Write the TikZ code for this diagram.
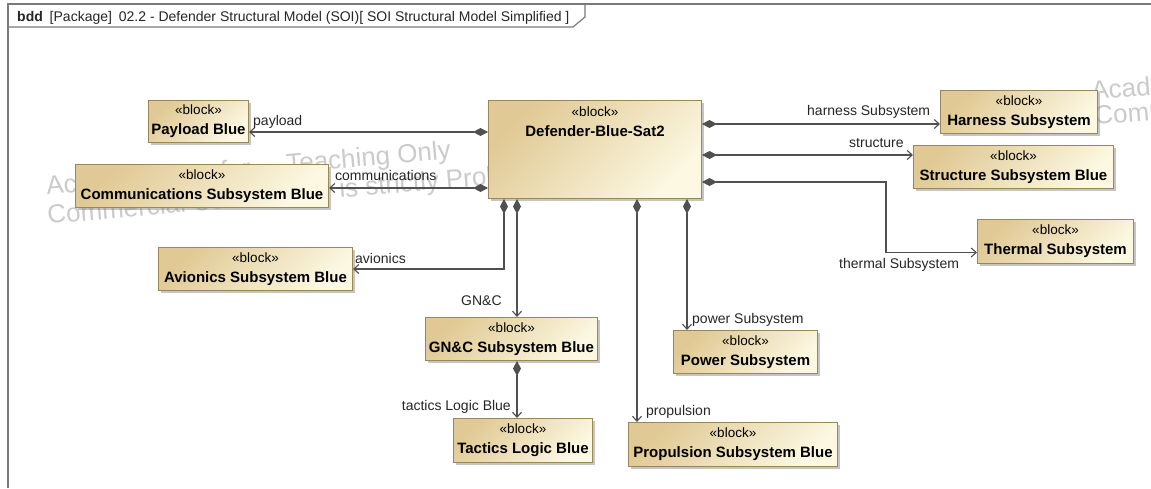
\documentclass[tikz,border=0pt]{standalone}
\usepackage{fontspec}
\setmainfont{Liberation Sans}
\usetikzlibrary{arrows.meta,shadows,calc}
\definecolor{blkA}{HTML}{E0C994}
\definecolor{blkB}{HTML}{FCF8E2}
\definecolor{blkD}{HTML}{9A8656}
\definecolor{lnC}{HTML}{505050}
\definecolor{wmC}{HTML}{CBCBCB}
\definecolor{frC}{HTML}{7A7A7A}
\newcommand\blkname[1]{«block»\\{\fontsize{15}{20}\selectfont\bfseries #1}}
\begin{document}
\begin{tikzpicture}[x=1pt,y=-1pt,
  block/.style={draw=blkD, line width=1pt, top color=blkA, bottom color=blkB, shading angle=45,
    anchor=north west, inner sep=0pt, align=center,
    drop shadow={shadow xshift=2.5pt, shadow yshift=-2.5pt, fill=black!50, opacity=0.45},
    font=\fontsize{13.5}{20}\selectfont},
  comp/.style={draw=lnC, line width=1.1pt,
    {Diamond[length=15pt,width=8pt,fill=lnC]}-{Straight Barb[length=5pt,width=9pt]}},
  lbl/.style={font=\fontsize{14}{16}\selectfont, text=black!85, inner sep=0pt, anchor=base west},
  wm/.style={font=\fontsize{26}{26}\selectfont, text=wmC, inner sep=0pt, rotate=5, anchor=base west}]
\useasboundingbox (0,0) rectangle (1151,488);
\fill[white] (0,0) rectangle (1151,488);
\clip (0,0) rectangle (1151,488);

% watermark
\node[wm] (wm1) at (47,195) {Academic Use for};
\node[wm] (wm2) at (287,173) {Teaching Only};
\node[wm] (wm3) at (48,224) {Commercial Use};
\node[wm] (wm4) at (340,198) {is strictly Prohibited};
\node[wm] (wm5) at (1092,100) {Academic Use for Teaching Only};
\node[wm] (wm6) at (1095,125) {Commercial Use is strictly Prohibited};

% frame
\draw[frC, line width=1.6pt] (8,488) -- (8,4) -- (1151,4);
\draw[frC, line width=1.2pt] (8,27) -- (573,27) -- (585,17) -- (585,4);
\node[anchor=base west, inner sep=0pt, font=\fontsize{14}{16}\selectfont, text=black!85] (hdr) at (17,21)
  {\textbf{bdd}\hspace{3pt} [Package]\hspace{3pt} 02.2 - Defender Structural Model (SOI)[ SOI Structural Model Simplified ]};

% blocks
\node[block, minimum width=100pt, minimum height=42pt] (payload) at (148,100) {\blkname{Payload Blue}};
\node[block, minimum width=253pt, minimum height=43pt] (comm) at (75,164) {\blkname{Communications Subsystem Blue}};
\node[block, minimum width=213pt, minimum height=98pt] (main) at (488,100) {};
\node[anchor=north, align=center, inner sep=0pt, font=\fontsize{13.5}{20}\selectfont] (maintxt) at ([yshift=-7pt]main.north) {\blkname{Defender-Blue-Sat2}};
\node[block, minimum width=157pt, minimum height=43pt] (harness) at (940,90) {\blkname{Harness Subsystem}};
\node[block, minimum width=200pt, minimum height=43pt] (structure) at (913,145) {\blkname{Structure Subsystem Blue}};
\node[block, minimum width=156pt, minimum height=44pt] (thermal) at (977,219) {\blkname{Thermal Subsystem}};
\node[block, minimum width=194pt, minimum height=43pt] (avionics) at (158,247) {\blkname{Avionics Subsystem Blue}};
\node[block, minimum width=172pt, minimum height=43pt] (gnc) at (425,317) {\blkname{GN\&C Subsystem Blue}};
\node[block, minimum width=139pt, minimum height=44pt] (tactics) at (453,418) {\blkname{Tactics Logic Blue}};
\node[block, minimum width=144pt, minimum height=43pt] (power) at (673,330) {\blkname{Power Subsystem}};
\node[block, minimum width=209pt, minimum height=44pt] (prop) at (628,422) {\blkname{Propulsion Subsystem Blue}};

% connector start points on the main block
\coordinate (pA) at ([yshift=-32pt]main.north west);
\coordinate (cA) at ([yshift=-88pt]main.north west);
\coordinate (hA) at ([yshift=-24pt]main.north east);
\coordinate (sA) at ([yshift=-55pt]main.north east);
\coordinate (tA) at ([yshift=-82pt]main.north east);
\coordinate (aA) at ([xshift=16pt]main.south west);
\coordinate (gA) at ([xshift=29pt]main.south west);
\coordinate (rA) at ([xshift=149pt]main.south west);
\coordinate (wA) at ([xshift=199pt]main.south west);

% connectors
\draw[comp] (pA) -- (pA -| payload.east);
\draw[comp] (cA) -- (cA -| comm.east);
\draw[comp] (hA) -- (hA -| harness.west);
\draw[comp] (sA) -- (sA -| structure.west);
\draw[comp] (tA) -- ++(184,0) |- ([yshift=-11pt]thermal.west);
\draw[comp] (aA) |- (avionics.east);
\draw[comp] (gA) -- (gA |- gnc.north);
\draw[comp] (gA |- gnc.south) -- (gA |- tactics.north);
\draw[comp] (rA) -- (rA |- prop.north);
\draw[comp] (wA) -- (wA |- power.north);

% labels
\node[lbl] (lpay) at (253,125) {payload};
\node[lbl] (lcom) at (335,180) {communications};
\node[lbl] (lhar) at (807,115) {harness Subsystem};
\node[lbl] (lstr) at (849,147) {structure};
\node[lbl] (lthe) at (839,268) {thermal Subsystem};
\node[lbl] (lavi) at (355,263) {avionics};
\node[lbl] (lgnc) at (461,305) {GN\&C};
\node[lbl, anchor=base east] (ltac) at (511,410) {tactics Logic Blue};
\node[lbl] (lpro) at (646,415) {propulsion};
\node[lbl] (lpow) at (692,323) {power Subsystem};
\end{tikzpicture}
\end{document}
